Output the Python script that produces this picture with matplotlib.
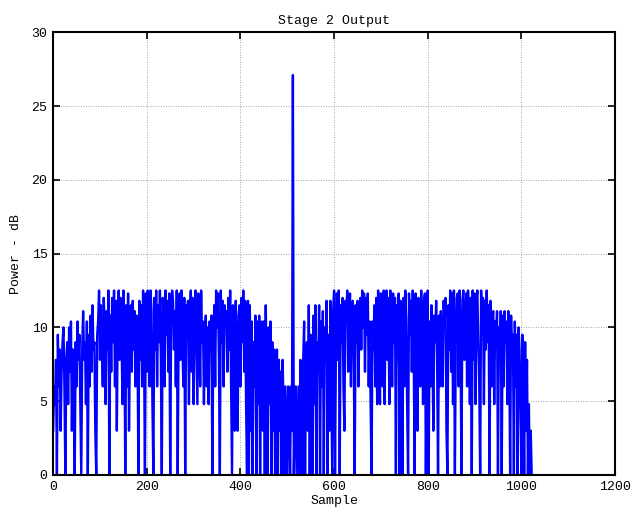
import numpy as np
import matplotlib
matplotlib.use("Agg")
import matplotlib.pyplot as plt

# power in dB, every 2nd sample (0..1022)
sample_step = 2
power_db = [
    3.0, 6.0, 4.8, 7.8, 0, 9.5, 6.0, 8.5, 3.0, 7.0, 9.0, 10.0, 6.0, 0, 7.8, 9.0,
    4.8, 10.0, 7.0, 10.4, 3.0, 8.5, 7.8, 0, 9.0, 6.0, 10.4, 7.8, 9.5, 4.8, 0, 8.5,
    11.1, 7.8, 9.0, 4.8, 10.4, 0, 9.5, 6.0, 10.8, 7.0, 11.5, 8.5, 9.0, 3.0, 0, 9.5,
    10.4, 12.5, 7.8, 11.5, 9.0, 6.0, 12.0, 10.0, 4.8, 11.1, 8.5, 12.5, 0, 10.8, 7.0, 12.0,
    9.0, 12.5, 6.0, 11.8, 3.0, 10.8, 12.5, 7.8, 12.0, 9.5, 4.8, 12.5, 10.4, 0, 11.5, 6.0,
    12.3, 3.0, 9.0, 11.5, 7.0, 11.8, 8.5, 11.1, 6.0, 10.8, 9.5, 0, 11.8, 7.8, 11.5, 6.0,
    12.5, 9.0, 0, 12.3, 7.0, 12.5, 10.0, 6.0, 12.5, 11.1, 4.8, 0, 12.0, 8.5, 12.5, 6.0,
    11.5, 9.0, 12.5, 7.8, 0, 12.0, 10.4, 6.0, 12.5, 9.5, 11.8, 7.0, 12.3, 0, 10.8, 12.5,
    11.8, 8.5, 11.1, 6.0, 12.5, 0, 10.0, 12.3, 7.8, 12.5, 9.0, 6.0, 12.0, 0, 11.5, 9.5,
    11.8, 4.8, 10.8, 12.5, 7.0, 12.0, 4.8, 11.1, 12.5, 8.5, 4.8, 12.3, 10.0, 6.0, 12.5, 9.0,
    10.4, 4.8, 9.5, 10.8, 6.0, 10.0, 4.8, 10.4, 8.5, 10.8, 0, 9.0, 11.5, 6.0, 12.5, 10.0,
    12.3, 7.8, 0, 12.5, 9.0, 11.8, 6.0, 11.5, 10.4, 11.1, 7.0, 12.0, 8.5, 12.5, 6.0, 0,
    11.5, 6.0, 3.0, 11.8, 7.8, 3.0, 10.8, 11.5, 6.0, 12.0, 9.0, 12.5, 7.0, 11.8, 4.8, 0,
    11.8, 0, 11.5, 3.0, 10.4, 0, 9.0, 6.0, 10.8, 0, 10.4, 4.8, 10.8, 0, 9.5, 10.4,
    3.0, 10.4, 0, 11.5, 7.0, 0, 10.0, 4.8, 10.4, 0, 9.0, 3.0, 8.5, 0, 6.0, 8.5,
    0, 7.8, 3.0, 7.0, 0, 7.8, 4.8, 0, 6.0, 3.0, 0, 6.0, 4.8, 0, 6.0, 3.0,
    27.1, 0, 4.8, 6.0, 0, 3.0, 6.0, 0, 7.8, 4.8, 0, 7.8, 10.4, 0, 7.0, 9.0,
    3.0, 11.5, 0, 9.5, 6.0, 0, 10.8, 4.8, 11.5, 0, 9.0, 7.0, 11.5, 0, 10.4, 6.0,
    11.1, 0, 10.0, 7.8, 11.8, 0, 9.5, 3.0, 11.8, 6.0, 0, 11.1, 12.5, 0, 9.0, 12.3,
    7.8, 12.5, 0, 11.5, 9.0, 12.0, 6.0, 3.0, 11.8, 10.4, 12.5, 7.0, 10.8, 12.3, 6.0, 11.5,
    11.8, 7.8, 0, 11.5, 9.0, 11.8, 6.0, 10.4, 12.0, 8.5, 12.5, 10.0, 12.3, 7.0, 12.0, 9.5,
    12.3, 6.0, 10.4, 4.8, 0, 10.4, 8.5, 11.5, 6.0, 12.0, 4.8, 12.5, 9.0, 4.8, 12.3, 10.8,
    6.0, 12.5, 4.8, 11.8, 12.5, 7.8, 12.0, 4.8, 12.5, 10.0, 6.0, 12.3, 9.0, 12.0, 0, 11.5,
    7.8, 12.3, 0, 11.8, 9.0, 0, 12.0, 6.0, 12.5, 10.4, 4.8, 0, 12.3, 9.5, 11.8, 7.0,
    12.5, 8.5, 0, 12.3, 10.4, 3.0, 12.0, 11.1, 6.0, 12.5, 9.0, 4.8, 11.8, 12.3, 0, 7.8,
    12.5, 0, 10.4, 6.0, 11.5, 8.5, 3.0, 10.8, 9.0, 11.8, 7.8, 0, 10.8, 6.0, 11.1, 9.5,
    6.0, 11.8, 10.0, 12.0, 3.0, 0, 11.5, 8.5, 12.5, 7.0, 12.3, 4.8, 12.5, 0, 9.5, 12.0,
    12.3, 6.0, 12.5, 9.0, 0, 11.8, 12.5, 7.8, 10.4, 12.3, 6.0, 12.5, 11.1, 4.8, 12.0, 0,
    12.5, 7.8, 12.3, 4.8, 11.8, 12.5, 9.0, 6.0, 0, 12.5, 10.0, 12.0, 4.8, 11.8, 8.5, 12.5,
    9.0, 11.5, 0, 11.8, 6.0, 10.8, 11.1, 4.8, 10.4, 9.0, 11.1, 0, 10.0, 7.8, 11.1, 0,
    10.8, 6.0, 11.1, 9.0, 10.4, 4.8, 11.1, 8.5, 0, 10.8, 7.8, 9.5, 0, 10.4, 6.0, 9.5,
    0, 10.0, 8.5, 4.8, 0, 9.5, 6.0, 0, 9.0, 3.0, 7.8, 0, 4.8, 0, 3.0, 0,
]

x_ticks = [0, 200, 400, 600, 800, 1000, 1200]
y_ticks = [0, 5, 10, 15, 20, 25, 30]

plt.rcParams['font.family'] = ['Liberation Mono', 'DejaVu Sans Mono']
plt.rcParams['font.size'] = 9.5

samples = np.arange(len(power_db)) * sample_step

fig = plt.figure(figsize=(6.33, 5.16), dpi=100)
ax = fig.add_axes([0.084, 0.0795, 0.8876, 0.858])
ax.plot(samples, power_db, color="#0000ff", linewidth=1.7)

ax.set_xlim(0, 1200)
ax.set_ylim(0, 30)
ax.set_xticks(x_ticks)
ax.set_yticks(y_ticks)
ax.grid(True, color="#888888", linestyle=(0, (1, 2)), linewidth=0.6)
ax.tick_params(direction="in", top=True, right=True, length=5, width=1.2, pad=4)
for s in ax.spines.values():
    s.set_linewidth(1.5)

ax.set_title("Stage 2 Output", fontsize=9.5, pad=6)
ax.set_xlabel("Sample", labelpad=2)
ax.set_ylabel("Power - dB", labelpad=7)

fig.savefig("out.png", dpi=100)
